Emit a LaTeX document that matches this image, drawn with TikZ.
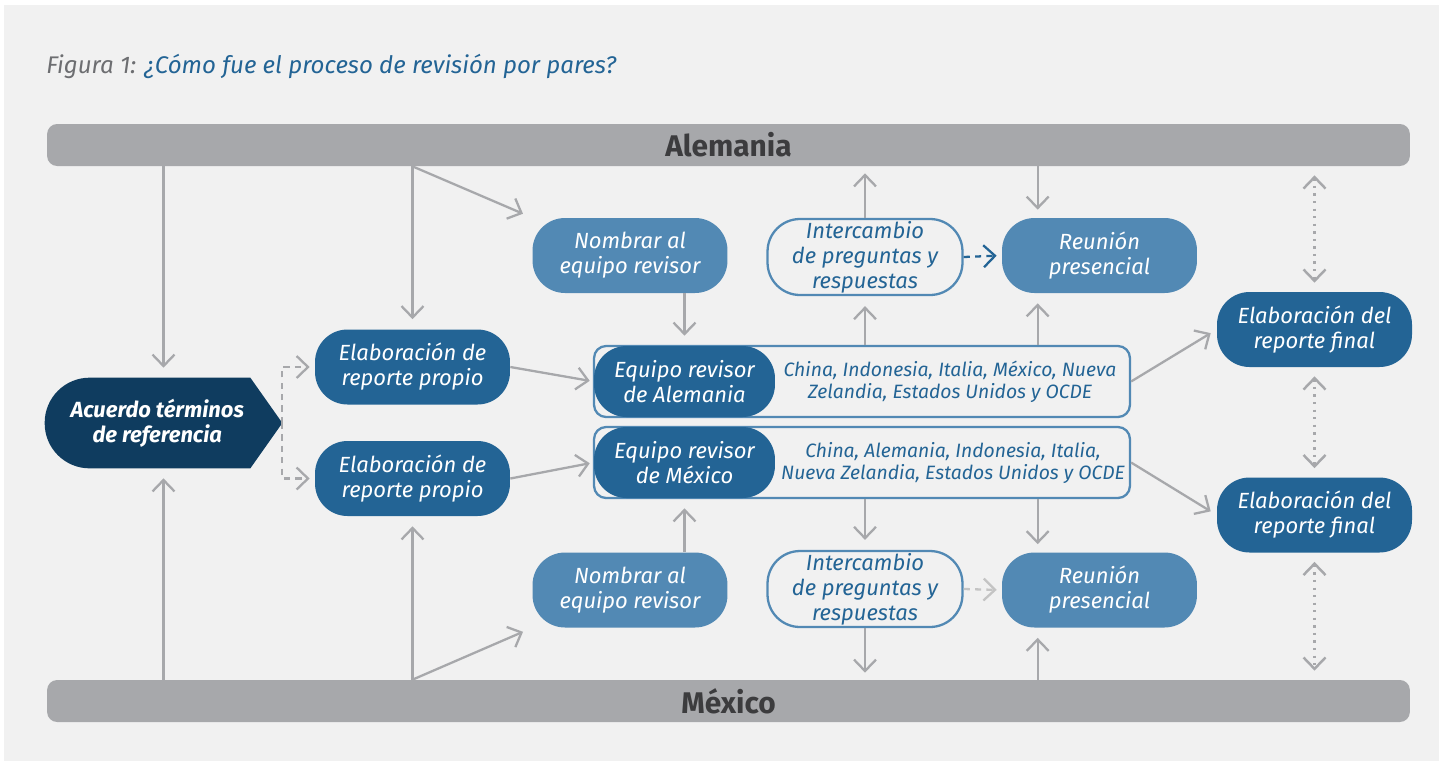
\documentclass[tikz,border=0pt]{standalone}
\usepackage{fontspec}
\setmainfont{Fira Sans}
\usetikzlibrary{arrows.meta, calc, positioning, backgrounds}

\definecolor{pagebg}{HTML}{F1F1F1}
\definecolor{bargray}{HTML}{A7A8AB}
\definecolor{bartext}{HTML}{3C3C3E}
\definecolor{navy}{HTML}{0F3C5F}
\definecolor{bluedark}{HTML}{236495}
\definecolor{bluelight}{HTML}{5289B4}
\definecolor{titlegray}{HTML}{6D6E71}
\definecolor{lightdash}{HTML}{C4C4C4}

\begin{document}
\begin{tikzpicture}[x=0.02cm, y=-0.02cm,
  bar/.style={fill=bargray, rounded corners=0.2cm, minimum width=27.26cm, minimum height=0.84cm, text=bartext, font=\fontsize{17}{20}\selectfont\bfseries},
  pill/.style={rounded corners=0.65cm, minimum width=3.9cm, minimum height=1.5cm, inner sep=0pt, align=center, text=white, font=\fontsize{12.5}{14.2}\selectfont\itshape},
  darkpill/.style={pill, fill=bluedark},
  lightpill/.style={pill, fill=bluelight},
  openpill/.style={pill, draw=bluelight, line width=1.3pt, fill=pagebg, text=bluedark, minimum height=1.52cm},
  teampill/.style={pill, fill=bluedark, minimum width=3.62cm, minimum height=1.42cm},
  listbox/.style={draw=bluelight, line width=1.3pt, fill=pagebg, rounded corners=0.24cm, minimum width=10.72cm, minimum height=1.42cm},
  listtext/.style={align=center, text=bluedark, inner sep=0pt, font=\fontsize{11}{12.8}\selectfont\itshape},
  arr/.style={draw=bargray, line width=1.3pt, -{Straight Barb[length=6.5pt,width=12.5pt]}, shorten >=0.2cm},
  dasharr/.style={arr, dash pattern=on 3.5pt off 3pt, shorten >=0.1cm},
  dotarr/.style={draw=bargray, line width=1.4pt, dash pattern=on 1.3pt off 3pt, {Straight Barb[length=6.5pt,width=12.5pt]}-{Straight Barb[length=6.5pt,width=12.5pt]}, shorten >=0.18cm, shorten <=0.18cm}
]
\useasboundingbox (0,0) rectangle (1443,765);

% Bars
\node[bar] (ale) at (728.5,145) {Alemania};
\node[bar] (mex) at (728.5,701) {México};

% Title
\node[anchor=base west, inner sep=0pt, font=\fontsize{13.7}{16}\selectfont\itshape] (title) at (46,73)
  {\textcolor{titlegray}{Figura 1:} \textcolor{bluedark}{¿Cómo fue el proceso de revisión por pares?}};

% Start
\node[align=center, text=white, minimum width=4.74cm, minimum height=1.8cm, font=\fontsize{12.5}{14.2}\selectfont\bfseries\itshape] (acuerdo) at (163.5,423) {Acuerdo términos\hspace*{0.25cm}\\de referencia\hspace*{0.25cm}};

% Own reports
\node[darkpill] (elab1) at (412.5,367) {Elaboración de\\reporte propio};
\node[darkpill] (elab2) at (412.5,478.5) {Elaboración de\\reporte propio};

% Alemania row
\node[lightpill] (nom1) at (630,255.5) {Nombrar al\\equipo revisor};
\node[openpill] (ic1) at (865,257) {Intercambio\\de preguntas y\\respuestas};
\node[lightpill] (reun1) at (1099.5,255.5) {Reunión\\presencial};

% México row
\node[lightpill] (nom2) at (630,590) {Nombrar al\\equipo revisor};
\node[openpill] (ic2) at (865,589) {Intercambio\\de preguntas y\\respuestas};
\node[lightpill] (reun2) at (1099.5,590) {Reunión\\presencial};

% Review teams
\node[listbox] (boxA) at (862,381.5) {};
\node[teampill] (eqA) at (684.5,381.5) {Equipo revisor\\de Alemania};
\node[listtext] (listA) at (950,382) {China, Indonesia, Italia, México, Nueva\\Zelandia, Estados Unidos y OCDE};
\node[listbox] (boxM) at (862,462.5) {};
\node[teampill] (eqM) at (684.5,462.5) {Equipo revisor\\de México};
\node[listtext] (listM) at (953,463) {China, Alemania, Indonesia, Italia,\\Nueva Zelandia, Estados Unidos y OCDE};

% Final reports
\node[darkpill] (fin1) at (1314.5,329.5) {Elaboración del\\reporte final};
\node[darkpill] (fin2) at (1314.5,515) {Elaboración del\\reporte final};

% meeting arrow points
\coordinate (r1top) at ([xshift=0.72cm]reun1.north west);
\coordinate (r1bot) at ([xshift=0.72cm]reun1.south west);
\coordinate (r2top) at ([xshift=0.72cm]reun2.north west);
\coordinate (r2bot) at ([xshift=0.72cm]reun2.south west);

\begin{scope}[on background layer]
\fill[white] (0,0) rectangle (1443,765);
\fill[pagebg] (4,5) rectangle (1439,761);
\fill[navy] (acuerdo.east) -- ([xshift=-0.64cm]acuerdo.north east) [rounded corners=0.9cm] -- (acuerdo.north west) -- (acuerdo.south west) [sharp corners] -- ([xshift=-0.64cm]acuerdo.south east) -- cycle;
\end{scope}

% Arrows from Alemania
\draw[arr] (ale.south -| acuerdo.north) -- (acuerdo.north);
\draw[arr] (ale.south -| elab1.north) -- (elab1.north);
\draw[arr] (ale.south -| elab1.north) -- (nom1.north west);
\draw[arr] (nom1.south -| eqA.north) -- (eqA.north);
\draw[arr] (boxA.north -| ic1.south) -- (ic1.south);
\draw[arr, shorten >=0.14cm] (ic1.north) -- (ic1.north |- ale.south);
\draw[arr, shorten >=0.16cm] (ale.south -| r1top) -- (r1top);
\draw[arr] (boxA.north -| r1bot) -- (r1bot);
\draw[dasharr, draw=bluedark] (ic1.east) -- (reun1.west);
\draw[dasharr] (acuerdo.east) |- (elab1.west);
\draw[arr, shorten >=0.08cm] (elab1.east) -- (eqA.west);
\draw[arr, shorten >=0.14cm] (boxA.east) -- (fin1.west);

% Arrows from México
\draw[arr] (mex.north -| acuerdo.south) -- (acuerdo.south);
\draw[arr] (mex.north -| elab2.south) -- (elab2.south);
\draw[arr] (mex.north -| elab2.south) -- (nom2.south west);
\draw[arr] (nom2.north -| eqM.south) -- (eqM.south);
\draw[arr] (boxM.south -| ic2.north) -- (ic2.north);
\draw[arr, shorten >=0.14cm] (ic2.south) -- (ic2.south |- mex.north);
\draw[arr] (mex.north -| r2bot) -- (r2bot);
\draw[arr, shorten >=0.16cm] (boxM.south -| r2top) -- (r2top);
\draw[dasharr, draw=lightdash] (ic2.east) -- (reun2.west);
\draw[dasharr] (acuerdo.east) |- (elab2.west);
\draw[arr, shorten >=0.08cm] (elab2.east) -- (eqM.west);
\draw[arr, shorten >=0.14cm] (boxM.east) -- (fin2.west);

% Final report exchange
\draw[dotarr] (ale.south -| fin1.north) -- (fin1.north);
\draw[dotarr] (fin1.south) -- (fin2.north);
\draw[dotarr] (fin2.south) -- (fin2.south |- mex.north);
\end{tikzpicture}
\end{document}
